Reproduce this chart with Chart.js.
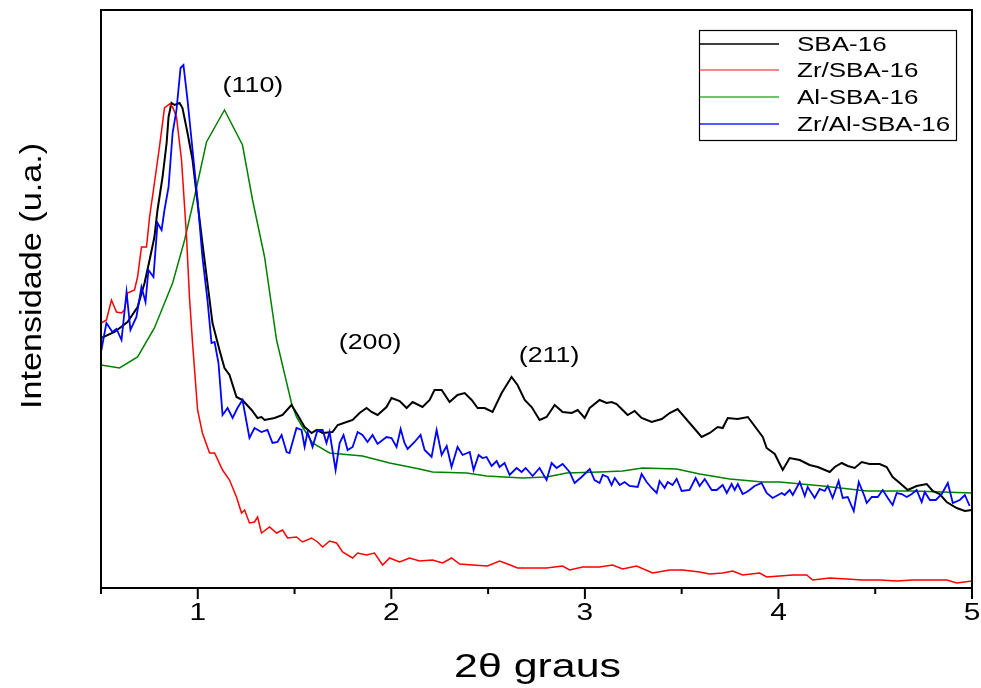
<!DOCTYPE html>
<html>
<head>
<meta charset="utf-8">
<title>SBA-16 DRX</title>
<script src="https://cdn.jsdelivr.net/npm/chart.js@4.4.1/dist/chart.umd.min.js"></script>
<style>
  html, body { margin: 0; padding: 0; background: #fff; }
  #wrap { width: 981px; height: 688px; }
</style>
</head>
<body>
<div id="wrap"><canvas id="xrd" width="981" height="688"></canvas></div>
<script>
// 2theta (graus) and intensity (u.a.)
var tt_sba = [0.5,0.570,0.637,0.689,0.725,0.751,0.776,0.792,0.818,0.839,0.849,0.864,0.880,0.906,0.921,0.947,0.973,0.999,1.024,1.050,1.076,1.112,1.138,1.164,1.200,1.231,1.278,1.309,1.329,1.345,1.397,1.438,1.484,1.516,1.552,1.588,1.614,1.645,1.696,1.723,1.769,1.800,1.836,1.872,1.898,1.929,1.975,2.001,2.043,2.079,2.110,2.161,2.198,2.223,2.260,2.301,2.342,2.379,2.415,2.446,2.482,2.523,2.570,2.621,2.652,2.689,2.725,2.766,2.802,2.844,2.885,2.932,2.963,2.999,3.025,3.076,3.112,3.138,3.164,3.195,3.221,3.257,3.293,3.345,3.397,3.438,3.479,3.541,3.603,3.645,3.686,3.712,3.738,3.789,3.842,3.919,3.939,3.981,4.022,4.058,4.110,4.161,4.203,4.265,4.291,4.327,4.358,4.394,4.430,4.471,4.523,4.559,4.590,4.627,4.668,4.714,4.766,4.797,4.833,4.869,4.921,4.963,5.0];
var int_sba = [250,256,266,281,305,328,351,378,411,445,471,485,483,485,480,455,428,385,345,305,265,238,220,213,191,188,178,170,171,168,170,173,183,173,161,155,158,155,156,163,166,168,175,180,176,173,181,190,187,180,186,181,188,198,198,186,193,195,188,180,180,176,195,211,203,188,181,168,171,183,176,175,178,170,180,188,185,186,184,178,173,177,170,166,169,175,179,165,151,155,161,160,170,169,171,151,140,134,118,130,128,123,121,116,121,125,122,120,126,124,124,121,111,105,98,102,104,97,94,86,80,77,78];

var tt_zr = [0.5,0.528,0.554,0.580,0.606,0.621,0.637,0.673,0.689,0.709,0.735,0.751,0.776,0.802,0.828,0.854,0.870,0.890,0.916,0.942,0.957,0.973,0.999,1.024,1.061,1.087,1.128,1.164,1.200,1.226,1.242,1.267,1.293,1.309,1.329,1.371,1.407,1.438,1.464,1.510,1.541,1.588,1.619,1.645,1.681,1.717,1.748,1.800,1.826,1.872,1.913,1.955,1.991,2.043,2.094,2.146,2.213,2.265,2.311,2.353,2.420,2.497,2.559,2.601,2.652,2.730,2.802,2.885,2.921,2.988,3.076,3.143,3.195,3.267,3.350,3.438,3.505,3.593,3.645,3.712,3.764,3.815,3.903,3.939,4.006,4.074,4.146,4.177,4.265,4.353,4.435,4.523,4.611,4.694,4.782,4.870,4.921,5.0];
var int_zr = [265,268,288,276,275,278,295,298,311,341,341,371,405,441,480,484,481,471,428,351,291,245,178,155,135,135,118,108,91,75,78,65,66,71,55,61,55,58,50,51,46,50,46,41,47,45,36,30,35,33,35,23,30,26,30,27,28,25,30,24,23,22,27,24,20,20,20,22,18,21,21,23,19,22,15,18,18,16,14,15,17,13,15,11,12,13,13,8,10,9,8,8,7,8,8,8,5,7];

var tt_al = [0.5,0.596,0.689,0.776,0.870,0.932,0.983,1.045,1.138,1.231,1.283,1.345,1.407,1.484,1.510,1.541,1.593,1.681,1.851,1.991,2.146,2.213,2.389,2.492,2.678,2.802,2.906,3.076,3.195,3.298,3.474,3.593,3.748,3.919,4.006,4.229,4.456,4.694,5.0];
var int_al = [223,220,231,260,305,348,391,446,478,443,388,331,248,185,171,161,145,135,132,125,119,116,115,112,110,111,115,116,117,120,119,114,109,106,106,102,97,97,95];

var tt_zral = [0.5,0.528,0.559,0.580,0.606,0.632,0.652,0.683,0.709,0.730,0.745,0.771,0.792,0.813,0.828,0.849,0.870,0.890,0.911,0.926,0.947,0.973,0.999,1.024,1.050,1.071,1.087,1.107,1.128,1.154,1.180,1.205,1.231,1.267,1.293,1.329,1.360,1.386,1.412,1.433,1.459,1.474,1.510,1.536,1.552,1.567,1.593,1.619,1.645,1.665,1.681,1.712,1.733,1.753,1.774,1.800,1.826,1.851,1.877,1.903,1.929,1.975,2.001,2.027,2.048,2.068,2.084,2.120,2.151,2.172,2.208,2.234,2.260,2.286,2.311,2.342,2.368,2.405,2.425,2.451,2.471,2.492,2.518,2.544,2.559,2.585,2.611,2.647,2.673,2.694,2.730,2.766,2.802,2.828,2.854,2.885,2.921,2.947,2.983,3.025,3.050,3.076,3.092,3.118,3.138,3.154,3.180,3.205,3.231,3.273,3.293,3.319,3.345,3.371,3.386,3.412,3.428,3.453,3.474,3.500,3.541,3.572,3.593,3.619,3.655,3.681,3.712,3.733,3.758,3.774,3.790,3.815,3.836,3.851,3.877,3.913,3.939,3.970,4.017,4.032,4.058,4.074,4.110,4.136,4.151,4.187,4.213,4.239,4.255,4.280,4.311,4.332,4.358,4.389,4.415,4.446,4.456,4.482,4.513,4.539,4.565,4.590,4.611,4.637,4.663,4.689,4.714,4.740,4.756,4.782,4.813,4.844,4.875,4.901,4.937,4.963,4.988];
var int_zral = [236,265,256,259,248,296,258,271,301,286,318,311,365,358,378,401,455,478,520,523,488,438,388,331,288,245,246,225,173,180,170,180,188,150,160,156,158,145,146,153,136,135,160,158,141,156,141,158,158,145,156,118,145,153,138,141,156,153,146,153,144,151,150,141,159,145,139,146,153,138,131,158,133,142,121,141,133,136,118,133,130,131,122,127,121,125,113,120,116,120,112,120,108,125,120,124,116,105,111,119,108,105,113,111,103,110,103,106,102,101,114,106,100,95,107,100,106,103,109,97,98,110,102,109,98,98,103,95,104,98,104,94,96,98,102,105,95,90,95,93,98,93,106,92,101,90,99,97,102,90,107,90,91,77,106,91,85,91,91,98,90,83,95,94,91,94,98,86,96,88,88,94,105,85,88,93,82];

var seriesNames = ['SBA-16', 'Zr/SBA-16', 'Al-SBA-16', 'Zr/Al-SBA-16'];
var seriesColors = ['#000000', '#ff0000', '#008000', '#0000ff'];
var legendColors = ['#000000', '#f06060', '#3cb03c', '#2020ff'];
var xTicks = [1, 2, 3, 4, 5];
var xMinor = [0.5, 1.5, 2.5, 3.5, 4.5];
var peakLabels = ['(110)', '(200)', '(211)'];
var peakLabelPos = [[1.285, 502], [1.890, 245], [2.815, 232]]; // [2theta, intensity]

function pairs(xs, ys) {
  var out = [];
  for (var i = 0; i < xs.length; i++) out.push({x: xs[i], y: ys[i]});
  return out;
}

var FONT = '"Liberation Sans", Arial, sans-serif';

function wideText(ctx, txt, x, y, size, sx, align, rot) {
  ctx.save();
  ctx.translate(x, y);
  if (rot) ctx.rotate(rot);
  ctx.scale(sx, 1);
  ctx.font = size + 'px ' + FONT;
  ctx.fillStyle = '#000';
  ctx.textAlign = align || 'center';
  ctx.textBaseline = 'middle';
  ctx.fillText(txt, 0, 0);
  ctx.restore();
}

var decorations = {
  id: 'decorations',
  afterDraw: function(chart) {
    var ctx = chart.ctx;
    var a = chart.chartArea;
    var xs = chart.scales.x, ys = chart.scales.y;

    // frame
    ctx.save();
    ctx.strokeStyle = '#000';
    ctx.lineWidth = 2;
    ctx.strokeRect(a.left, a.top, a.right - a.left, a.bottom - a.top);

    // ticks
    ctx.lineWidth = 2;
    ctx.beginPath();
    xTicks.forEach(function(v) {
      var px = xs.getPixelForValue(v);
      ctx.moveTo(px, a.bottom); ctx.lineTo(px, a.bottom + 11);
    });
    xMinor.forEach(function(v) {
      var px = xs.getPixelForValue(v);
      ctx.moveTo(px, a.bottom); ctx.lineTo(px, a.bottom + 6);
    });
    ctx.stroke();
    ctx.restore();

    xTicks.forEach(function(v) {
      wideText(ctx, String(v), xs.getPixelForValue(v), a.bottom + 26, 23, 1.3, 'center');
    });

    // axis titles
    wideText(ctx, '2\u03B8 graus', (a.left + a.right) / 2 + 1, 668, 33, 1.3, 'center');
    wideText(ctx, 'Intensidade (u.a.)', 33, 276, 30, 1.14, 'center', -Math.PI / 2);

    // reflections
    peakLabels.forEach(function(t, i) {
      wideText(ctx, t, xs.getPixelForValue(peakLabelPos[i][0]), ys.getPixelForValue(peakLabelPos[i][1]), 22, 1.22, 'center');
    });

    // legend
    ctx.save();
    ctx.strokeStyle = '#000';
    ctx.lineWidth = 1.2;
    ctx.strokeRect(699.5, 30.5, 257, 110);
    var rows = [44, 70, 97, 124];
    seriesNames.forEach(function(n, i) {
      ctx.strokeStyle = legendColors[i];
      ctx.lineWidth = 1.3;
      ctx.beginPath();
      ctx.moveTo(700, rows[i]); ctx.lineTo(779, rows[i]);
      ctx.stroke();
      wideText(ctx, n, 797, rows[i] + 1, 20, 1.3, 'left');
    });
    ctx.restore();
  }
};

var ctx = document.getElementById('xrd').getContext('2d');
new Chart(ctx, {
  type: 'line',
  data: {
    datasets: [
      { label: seriesNames[0], data: pairs(tt_sba, int_sba), borderColor: seriesColors[0], borderWidth: 2, order: 3 },
      { label: seriesNames[1], data: pairs(tt_zr, int_zr), borderColor: seriesColors[1], borderWidth: 1.5, order: 2 },
      { label: seriesNames[2], data: pairs(tt_al, int_al), borderColor: seriesColors[2], borderWidth: 1.5, order: 4 },
      { label: seriesNames[3], data: pairs(tt_zral, int_zral), borderColor: seriesColors[3], borderWidth: 1.8, order: 1 }
    ]
  },
  options: {
    responsive: false,
    animation: false,
    parsing: true,
    elements: { point: { radius: 0 }, line: { tension: 0, fill: false } },
    layout: { padding: { left: 101, right: 9, top: 10, bottom: 100 } },
    plugins: { legend: { display: false }, tooltip: { enabled: false } },
    scales: {
      x: { type: 'linear', min: 0.5, max: 5, display: false },
      y: { type: 'linear', min: 0, max: 578, display: false }
    }
  },
  plugins: [decorations]
});
</script>
</body>
</html>
